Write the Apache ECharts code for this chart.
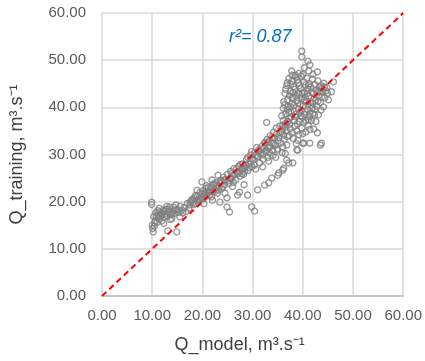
<!DOCTYPE html>
<html>
<head>
<meta charset="utf-8">
<script src="https://cdn.jsdelivr.net/npm/echarts@6/dist/echarts.min.js"></script>
<style>
  html, body { margin: 0; padding: 0; background: #fff; }
  #chart { width: 425px; height: 361px; }
</style>
</head>
<body>
<div id="chart"></div>
<script>
// Q_model vs Q_training pairs [model, training]
const lowFlow = [
  [9.9,19.9],[9.9,19.4],[10.0,15.0],[10.1,14.3],[10.2,13.6],[10.4,14.8],[10.6,16.0],[10.8,16.8],
  [11.0,15.6],[11.2,17.2],[11.3,16.4],[11.5,17.8],[11.7,16.9],[11.9,15.9],[12.0,17.5],[12.2,18.2],
  [12.4,16.7],[12.6,17.4],[12.8,18.4],[13.0,16.9],[13.1,13.8],[13.3,17.8],[13.5,18.9],[13.7,17.2],
  [13.9,16.4],[14.1,18.0],[14.3,18.8],[14.5,17.5],[14.7,19.3],[14.9,13.6],[15.0,18.3],[15.3,17.7],
  [15.6,19.0],[15.9,18.2],[16.1,17.6],[16.4,18.8],[16.7,17.9],[17.0,19.6],[17.5,19.3],[11.4,18.6],
  [12.9,19.0],[10.7,17.6],[13.6,16.2],[15.5,16.8],[12.3,15.4],
  [11.8,17.2],[12.5,18.0],[13.2,18.4],[14.0,17.4],[14.6,18.2],[11.1,18.1],[10.3,16.9],[10.5,15.5],
  [17.8,20.2],[18.1,19.8],[18.4,20.8],[18.7,19.6],[19.0,21.2],[19.3,20.5],[19.5,21.9],[19.8,20.9],
  [19.9,24.2],[20.1,22.3],[20.4,21.5],[20.7,22.8],[20.9,21.2],[21.2,23.1],[21.5,22.2],[21.9,24.6],
  [21.8,21.0],[22.1,23.6],[22.4,22.6],[22.7,24.0],[23.0,21.8],[23.1,25.6],[23.3,23.2],[23.5,19.9],
  [23.6,24.5],[23.9,22.8],[24.2,25.2],[24.5,21.8],[24.4,23.6],[18.9,22.4],[20.3,19.6],[22.0,20.3],
  [24.9,18.9],[25.4,17.8],[24.9,20.8],
  [17.3,18.6],[17.6,19.9],[18.0,20.5],[18.3,19.4],[18.6,21.3],[18.9,20.3],[19.2,19.8],[19.6,20.4],
  [20.0,21.6],[20.2,20.6],[20.6,21.9],[20.8,23.4],[21.1,22.0],[21.4,21.3],[21.7,23.0],[22.0,22.1],
  [22.3,23.8],[22.6,22.2],[22.9,23.4],[23.2,22.5],[23.5,23.9],[23.8,24.4],[24.1,23.2],[24.3,24.6]
];
const midFlow = [
  [24.7,24.6],[25.0,25.8],[25.3,23.9],[25.6,26.4],[25.8,24.8],[26.1,25.5],[26.3,27.0],[26.6,24.6],
  [26.9,26.2],[27.0,21.4],[27.2,27.5],[27.4,22.0],[27.5,25.4],[27.8,26.8],[28.0,28.0],[28.2,25.8],
  [28.5,27.2],[28.8,28.9],[29.0,21.4],[29.1,26.6],[29.4,28.0],[29.6,29.9],[29.8,18.9],[29.9,27.4],
  [30.1,28.8],[30.4,18.0],[30.4,30.4],[30.6,26.9],[30.9,29.5],[31.0,22.5],[31.2,31.0],[31.4,28.2],
  [26.0,23.2],[28.3,23.6],
  [25.1,24.4],[25.5,25.0],[25.9,26.0],[26.2,24.1],[26.5,25.8],[26.8,27.0],[27.1,25.9],[27.3,26.4],
  [27.6,27.9],[27.9,25.9],[28.1,27.1],[28.4,26.4],[28.7,27.8],[29.0,29.4],[29.3,27.2],[29.5,28.6],
  [29.8,30.6],[30.0,29.2],[30.3,27.8],[30.6,29.8],[30.8,31.5],[31.1,29.6],[31.3,30.6],[31.7,31.2],
  [32.0,29.9],[32.3,31.3],[32.6,32.6],[32.9,30.9],[33.2,32.7],[33.5,31.6],[33.8,33.6],[34.1,32.3],
  [34.4,33.5],[34.8,34.3],[35.1,32.9],[35.5,34.6],[35.9,35.4],[36.2,34.1],[36.6,36.6],[33.0,29.4],
  [34.0,29.8],[35.0,30.9],[36.0,31.6],[36.5,30.2],
  [31.6,30.2],[31.9,31.8],[32.1,29.0],[32.4,23.5],[32.4,32.5],[32.6,30.6],[32.8,36.8],[32.9,33.2],
  [33.2,24.0],[33.1,31.4],[33.4,30.3],[33.5,34.0],[33.8,25.0],[33.8,32.4],[34.0,30.8],[34.2,34.8],
  [34.5,32.0],[34.7,35.6],[34.9,31.2],[35.0,25.6],[35.2,26.1],[35.2,33.6],[35.4,36.0],[35.6,32.4],
  [35.8,34.8],[36.0,26.7],[36.1,37.2],[36.2,27.1],[36.3,33.2],[36.5,35.8],[36.8,28.8],[36.8,32.0],
  [37.0,36.9],[37.2,28.2],[37.3,34.0],[33.2,28.6],[34.6,29.4],[35.9,30.4],[32.0,27.4]
];
const highFlow = [
  [39.8,51.9],[39.8,50.7],[41.0,49.8],[41.4,49.0],[41.2,47.7],[37.8,47.7],[42.9,47.5],[40.3,48.4],
  [39.2,47.2],[38.5,46.8],[37.9,46.8],[40.0,47.0],[42.0,47.0],
  [37.2,46.1],[37.9,45.6],[38.6,46.4],[39.1,45.2],[39.7,46.6],[40.2,45.4],[40.8,46.2],[41.3,45.0],
  [41.9,46.0],[42.4,44.8],[43.0,45.6],[43.6,44.6],[44.2,45.1],[44.8,44.2],[46.1,45.4],[36.8,44.6],
  [38.2,44.4],[39.6,44.0],[41.0,43.9],[42.6,43.6],
  [36.6,43.8],[37.3,42.5],[38.0,43.1],[38.6,42.4],[39.3,44.6],[39.9,43.0],[40.5,42.2],[41.1,44.6],
  [41.8,43.2],[42.3,42.0],[43.2,44.3],[44.3,44.3],[44.9,43.0],
  [36.5,42.9],[37.0,41.6],[37.5,43.4],[38.0,42.1],[38.4,43.8],[38.9,41.4],[39.3,42.7],[39.8,41.9],
  [40.3,43.2],[40.7,41.2],[41.2,42.4],[41.6,41.1],[42.1,42.9],[42.5,41.5],[43.1,42.4],[43.5,41.0],
  [44.0,43.3],[44.4,42.0],[45.1,41.6],[45.7,43.3],[36.2,41.2],[37.8,40.8],[39.1,43.1],[43.8,44.0],
  [36.9,39.5],[37.6,40.1],[38.3,39.2],[39.0,40.9],[39.7,39.3],[40.3,41.5],[41.0,39.5],[41.6,40.3],
  [42.4,39.6],[43.0,41.3],[43.8,42.2],
  [36.1,39.8],[36.6,38.6],[37.1,40.2],[37.6,39.0],[38.2,40.4],[38.6,38.5],[39.1,39.6],[39.6,38.2],
  [40.1,40.3],[40.5,39.1],[41.0,40.6],[41.4,38.7],[41.9,39.9],[42.3,38.4],[42.8,40.2],[43.1,38.4],
  [43.6,39.4],[44.1,40.1],[35.8,38.2],[37.3,37.6],
  [37.0,37.0],[37.7,38.0],[38.5,38.0],[39.4,38.8],[40.3,38.5],[41.1,37.3],[42.0,38.7],
  [36.0,36.2],[36.7,35.1],[37.4,36.4],[37.9,34.7],[38.4,36.0],[38.8,35.0],[39.3,37.0],[39.8,35.6],
  [40.2,36.8],[40.6,34.8],[41.1,36.2],[41.7,37.2],[42.2,35.4],[42.9,34.6],[38.1,33.4],[39.0,33.0],
  [37.5,35.5],[38.9,36.5],[40.0,34.4],[41.4,35.3],
  [38.8,31.0],[40.0,32.4],[41.4,32.4],[43.5,32.0],[43.7,32.4],[40.2,32.4],[39.0,30.9],[38.0,28.2],
  [36.9,45.2],[37.6,44.9],[38.9,45.8],[40.5,44.7],[41.6,44.3],[42.9,43.2],[44.6,43.5],[36.4,40.5],
  [37.9,41.9],[39.5,40.7],[40.9,42.9],[42.0,40.9],[43.4,43.4],[38.3,37.2],[39.9,37.9],[41.3,38.0],
  [42.6,37.0],[37.2,38.9],[40.6,37.2],[39.2,34.2],[36.9,33.8],[38.7,32.3]
];
const oneToOne = [[0, 0], [60, 60]];
const axisMin = 0, axisMax = 60, axisStep = 10;
const r2Text = 'r²= 0.87';

const font = 'Liberation Sans';
const pointStyle = {
  color: 'rgba(0,0,0,0)',
  borderColor: '#808080',
  borderWidth: 1.4
};

const valueAxis = (name, gap) => ({
  type: 'value',
  min: axisMin,
  max: axisMax,
  interval: axisStep,
  name: name,
  nameLocation: 'middle',
  nameGap: gap,
  nameTextStyle: { fontFamily: font, fontSize: 18, color: '#404040' },
  axisTick: { show: false },
  axisLabel: {
    fontFamily: font, fontSize: 15, color: '#595959',
    formatter: v => v.toFixed(2)
  },
  splitLine: { lineStyle: { color: '#d9d9d9', width: 1.5 } }
});

const xAxis = valueAxis('Q_model, m³.s⁻¹', 40);
xAxis.axisLine = { show: true, lineStyle: { color: '#bfbfbf', width: 1.5 } };
xAxis.axisLabel.margin = 12;
xAxis.nameTextStyle.padding = [0, 26, 0, 0];
const yAxis = valueAxis('Q_training, m³.s⁻¹', 76);
yAxis.axisLine = { show: false };
yAxis.axisLabel.margin = 16;

const chart = echarts.init(document.getElementById('chart'));
chart.setOption({
  animation: false,
  grid: { left: 102, right: 21, top: 13, bottom: 65 },
  xAxis: xAxis,
  yAxis: yAxis,
  graphic: [{
    type: 'text',
    left: 229,
    top: 28,
    style: {
      text: r2Text,
      font: 'italic 18px "Liberation Sans"',
      fill: '#0070C0'
    }
  }],
  series: [
    { type: 'scatter', data: lowFlow, symbol: 'circle', symbolSize: 6, itemStyle: pointStyle },
    { type: 'scatter', data: midFlow, symbol: 'circle', symbolSize: 6, itemStyle: pointStyle },
    { type: 'scatter', data: highFlow, symbol: 'circle', symbolSize: 6, itemStyle: pointStyle },
    {
      type: 'line',
      data: oneToOne,
      symbol: 'none',
      z: 5,
      lineStyle: { color: '#ff0000', width: 2, type: [6, 4] }
    }
  ]
});
</script>
</body>
</html>
